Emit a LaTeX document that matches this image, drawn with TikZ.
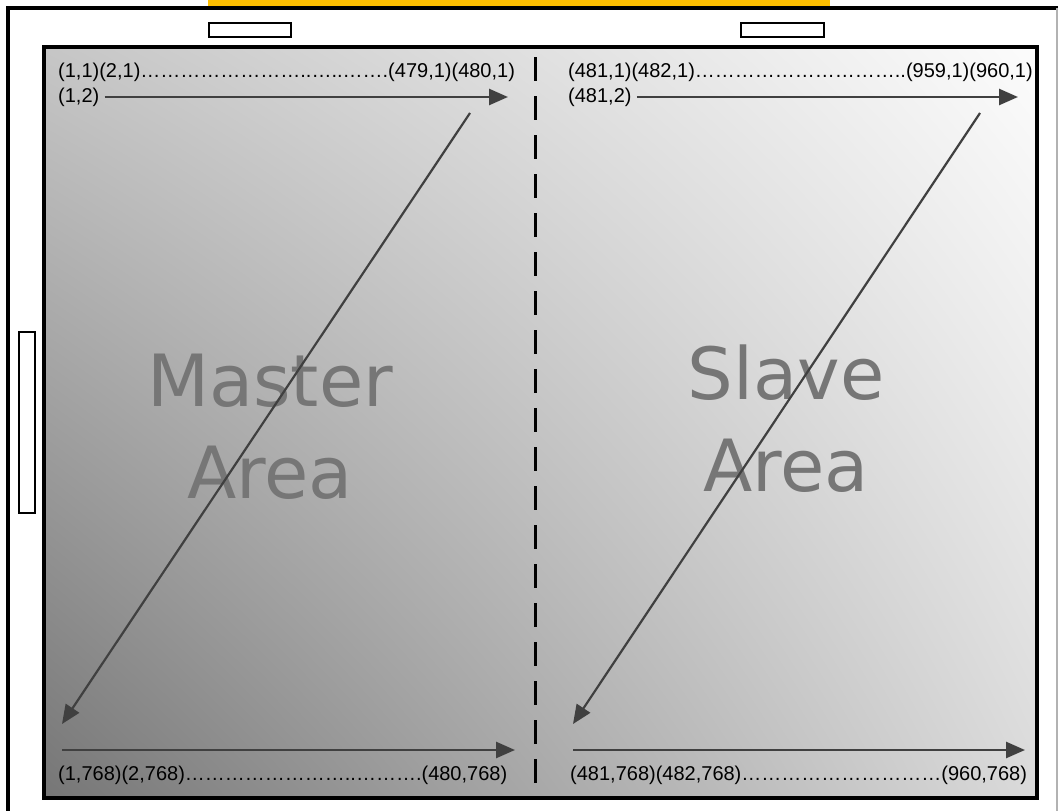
\documentclass[tikz,border=0pt]{standalone}
\usepackage{fontspec}
\setmainfont{Liberation Sans}
\newfontfamily\areafont{DejaVu Sans}
\usetikzlibrary{arrows.meta, positioning, shadings}
\definecolor{framebar}{RGB}{255,192,0}
\definecolor{arrowgrey}{RGB}{64,64,64}
\definecolor{areagrey}{RGB}{118,118,118}
\definecolor{shadetl}{RGB}{198,198,198}
\definecolor{shadetr}{RGB}{252,252,252}
\definecolor{shadebl}{RGB}{118,118,118}
\definecolor{shadebr}{RGB}{218,218,218}
\tikzset{
  pixtext/.style={inner sep=0pt, anchor=west, font=\fontsize{20}{24}\selectfont},
  arealabel/.style={inner sep=0pt, align=center, text=areagrey,
    font=\areafont\fontsize{72}{92}\selectfont},
  scanarr/.style={-{Triangle[length=19pt, width=16pt]}, line width=2.6pt, arrowgrey},
  diagarr/.style={-{Triangle[length=19pt, width=16pt]}, line width=2.2pt, arrowgrey},
  padbox/.style={draw, line width=2.6pt, fill=white},
  split/.style={line width=3pt, dash pattern=on 24pt off 15pt},
}

\begin{document}
\begin{tikzpicture}[x=1pt, y=-1pt]
  \useasboundingbox (0,0) rectangle (1058,811);
  % panel frame
  \fill[framebar] (208,0) rectangle (830,8);
  \draw[line width=3.2pt] (8,811) -- (8,8) -- (1058,8);
  \draw[black!30, line width=1.2pt] (1057,8) -- (1057,811);
  \draw[padbox] (209,23) rectangle (291,37);
  \draw[padbox] (741,23) rectangle (824,37);
  \draw[padbox] (19,332) rectangle (35,513);
  % display area
  \shade[upper left=shadetl, upper right=shadetr, lower left=shadebl, lower right=shadebr]
    (44,47) rectangle (1037,798);
  \draw[line width=3.2pt] (44,47) rectangle (1037,798);
  \draw[split] (535,57) -- (535,798);

  % master half
  \node[arealabel] (master) at (270,427) {Master\\Area};
  \node[pixtext] (mfirst) at (58,72) {(1,1)(2,1)……………………..…..…….(479,1)(480,1)};
  \node[pixtext] (msecond) at (58,97) {(1,2)};
  \node[pixtext] (mlast) at (58,775) {(1,768)(2,768)……………………..……….(480,768)};
  \coordinate (mrowend) at (508,97);
  \coordinate (mdiagtop) at (470,113);
  \coordinate (mdiagbot) at (62,724);
  \coordinate (mbotstart) at (62,750);
  \coordinate (mbotend) at (515,750);
  \draw[scanarr, shorten <=5pt] (msecond.east) -- (mrowend);
  \draw[diagarr] (mdiagtop) -- (mdiagbot);
  \draw[scanarr] (mbotstart) -- (mbotend);

  % slave half
  \node[arealabel] (slave) at (786,419) {Slave\\Area};
  \node[pixtext] (sfirst) at (568,72) {(481,1)(482,1)…………………………..(959,1)(960,1)};
  \node[pixtext] (ssecond) at (568,97) {(481,2)};
  \node[pixtext] (slast) at (570,775) {(481,768)(482,768)…………………………(960,768)};
  \coordinate (srowend) at (1018,97);
  \coordinate (sdiagtop) at (980,113);
  \coordinate (sdiagbot) at (573,724);
  \coordinate (sbotstart) at (573,750);
  \coordinate (sbotend) at (1025,750);
  \draw[scanarr, shorten <=5pt] (ssecond.east) -- (srowend);
  \draw[diagarr] (sdiagtop) -- (sdiagbot);
  \draw[scanarr] (sbotstart) -- (sbotend);
\end{tikzpicture}
\end{document}
